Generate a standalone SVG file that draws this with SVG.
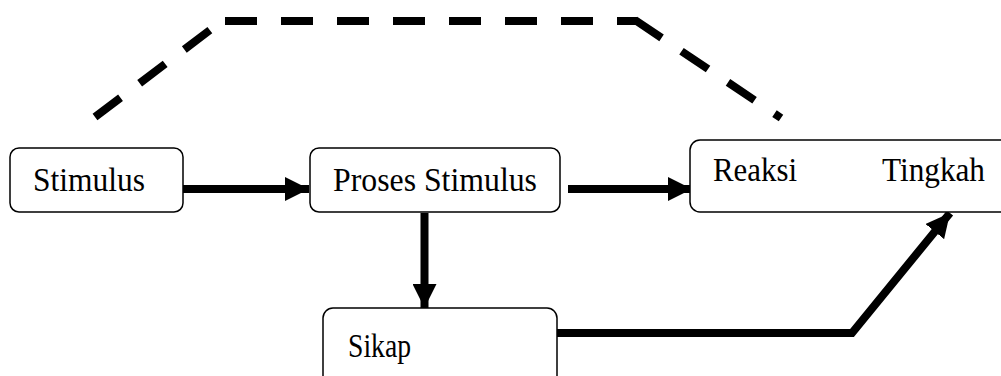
<svg xmlns="http://www.w3.org/2000/svg" width="1001" height="376" viewBox="0 0 1001 376">
<style>
.box{fill:#fff;stroke:#000;stroke-width:1.5}
.lbl{font-family:"Liberation Serif","Times New Roman",serif;font-size:34px;fill:#000}
.arr{fill:none;stroke:#000;stroke-width:8}
.dash{fill:none;stroke:#000;stroke-width:8;stroke-dasharray:32 24}
</style>
<defs>
<marker id="ah" markerUnits="userSpaceOnUse" markerWidth="24" markerHeight="24" viewBox="0 0 24 24" refX="24" refY="12" orient="auto">
<path d="M0,0 L24,12 L0,24 Z" fill="#000"/>
</marker>
</defs>
<rect width="1001" height="376" fill="#fff"/>
<g id="connectors">
<line class="dash" x1="95" y1="117" x2="214" y2="27"/>
<line class="dash" x1="225" y1="21" x2="637" y2="21"/>
<line class="dash" x1="635" y1="20" x2="781" y2="118"/>
<line class="arr" x1="183" y1="189" x2="309" y2="189" marker-end="url(#ah)"/>
<line class="arr" x1="568" y1="189" x2="692" y2="189" marker-end="url(#ah)"/>
<line class="arr" x1="424.5" y1="213" x2="424.5" y2="308" marker-end="url(#ah)"/>
<polyline class="arr" points="557,333 852,333 950,213" marker-end="url(#ah)"/>
</g>
<g id="node-stimulus">
<rect class="box" x="10" y="148" width="173" height="64" rx="9"/>
<text class="lbl" x="33" y="191" textLength="112" lengthAdjust="spacingAndGlyphs">Stimulus</text>
</g>
<g id="node-proses">
<rect class="box" x="310" y="148" width="250" height="64" rx="9"/>
<text class="lbl" x="333" y="191" textLength="204" lengthAdjust="spacingAndGlyphs">Proses Stimulus</text>
</g>
<g id="node-reaksi">
<rect class="box" x="690" y="140" width="320" height="72" rx="10"/>
<text class="lbl" x="713" y="181" textLength="84" lengthAdjust="spacingAndGlyphs">Reaksi</text>
<text class="lbl" x="882" y="181" textLength="103" lengthAdjust="spacingAndGlyphs">Tingkah</text>
</g>
<g id="node-sikap">
<rect class="box" x="323" y="308" width="234" height="90" rx="10"/>
<text class="lbl" x="348" y="357" textLength="63" lengthAdjust="spacingAndGlyphs">Sikap</text>
</g>
</svg>
